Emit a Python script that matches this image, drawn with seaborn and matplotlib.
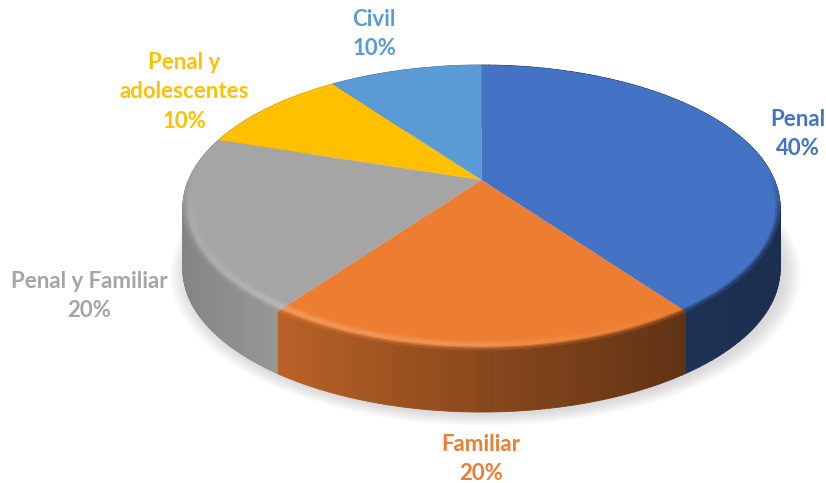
import numpy as np
import matplotlib
matplotlib.use("Agg")
import matplotlib.pyplot as plt
import seaborn as sns
from matplotlib.collections import PolyCollection
from matplotlib.transforms import Transform

categories = ["Penal", "Familiar", "Penal y Familiar", "Penal y\nadolescentes", "Civil"]
shares = [40, 20, 20, 10, 10]
hexes = ["#4472C4", "#ED7D31", "#A5A5A5", "#FFC000", "#5B9BD5"]

label_xy = [(798, 134), (481, 459), (89, 296), (184, 92), (374, 34)]
CX, CY, P, Q, S, DEPTH = 481.5, 180.0, 0.193, 137.2, 293.0, 62.0

sns.set_theme(style="white")
plt.rcParams["font.family"] = ["Lato", "DejaVu Sans"]
palette = sns.color_palette(hexes)


class Tilt(Transform):
    """Projective tilt of the unit disc onto the page."""
    input_dims = output_dims = 2
    is_separable = False
    has_inverse = False

    def transform_non_affine(self, values):
        v = np.asarray(values, float)
        w = 1 + P * v[:, 1]
        return np.column_stack([CX + S * v[:, 0] / w, CY - Q * v[:, 1] / w])


tilt = Tilt()


def project(x, y):
    return tilt.transform_non_affine(np.column_stack([x, y]))


fig = plt.figure(figsize=(8.26, 4.83), dpi=100)
ax = fig.add_axes([0, 0, 1, 1])
wedges, _ = ax.pie(shares, colors=palette, startangle=90, counterclock=False, radius=1)
ax.set_aspect("auto")
ax.set_xlim(0, 826)
ax.set_ylim(483, 0)
ax.axis("off")

# soft shadow under the disc
ring = np.radians(np.linspace(0, 360, 361))
for r in np.linspace(1.055, 1.0, 14):
    outline = project(r * np.cos(ring), r * np.sin(ring))
    ax.fill(outline[:, 0] + 4, outline[:, 1] + DEPTH + 2, color="#666666",
            alpha=0.016, lw=0, zorder=1)

# wall shading: brightness across the page, per slice
wall_shade = [
    ([480, 683, 780], [0.45, 0.44, 0.40]),
    ([280, 480, 683], [0.78, 0.58, 0.41]),
    ([183, 280], [0.80, 0.92]),
    ([183, 280], [0.8, 0.8]),
    ([183, 280], [0.8, 0.8]),
]

for w, col, (sx, sv) in zip(wedges, palette, wall_shade):
    t = np.radians(np.linspace(w.theta1, w.theta2, 90))
    pts = project(np.cos(t), np.sin(t))
    polys, cols = [], []
    for a, b in zip(pts[:-1], pts[1:]):
        polys.append([a, b, b + [0, DEPTH], a + [0, DEPTH]])
        f = np.interp((a[0] + b[0]) / 2, sx, sv)
        cols.append(np.array(col) * f)
    walls = PolyCollection(polys, facecolors=cols, edgecolors=cols, linewidths=0.6, zorder=2)
    walls.set_snap(False)
    ax.add_collection(walls)

for w in wedges:
    w.set_transform(tilt + ax.transData)
    w.set_zorder(3)
    w.set_linewidth(0)
    w.set_snap(False)

# bevelled rim along the front of the top face
radii = np.linspace(0.95, 1.0, 8)
for w, col, (sx, sv) in zip(wedges, palette, wall_shade):
    t = np.radians(np.linspace(w.theta1, w.theta2, 70))
    polys, cols = [], []
    base = np.array(col)
    for t0, t1 in zip(t[:-1], t[1:]):
        tm = (t0 + t1) / 2
        front = np.clip((-np.sin(tm) + 0.05) / 0.4, 0, 1)
        if front <= 0:
            continue
        xm = project(np.array([np.cos(tm)]), np.array([np.sin(tm)]))[0, 0]
        glow = np.interp(xm, [183, 280, 480, 683, 780], [0.06, 0.22, 0.16, 0.0, 0.0]) * front
        wall = base * np.interp(xm, sx, sv)
        for r0, r1 in zip(radii[:-1], radii[1:]):
            u = ((r0 + r1) / 2 - radii[0]) / (radii[-1] - radii[0])
            bump = np.exp(-((u - 0.5) / 0.3) ** 2)
            c = base + (1 - base) * glow * bump
            edge = np.clip((u - 0.65) / 0.35, 0, 1) * front
            c = c * (1 - edge) + wall * edge
            q = project(np.array([r0 * np.cos(t0), r1 * np.cos(t0), r1 * np.cos(t1), r0 * np.cos(t1)]),
                        np.array([r0 * np.sin(t0), r1 * np.sin(t0), r1 * np.sin(t1), r0 * np.sin(t1)]))
            polys.append(q)
            cols.append(np.clip(c, 0, 1))
    rim = PolyCollection(polys, facecolors=cols, edgecolors=cols, linewidths=0.4, zorder=4)
    rim.set_snap(False)
    ax.add_collection(rim)

for name, share, col, (x, y) in zip(categories, shares, palette, label_xy):
    ax.text(x, y, f"{name}\n{share}%", color=col, ha="center", va="center",
            fontsize=16, fontweight="bold", linespacing=1.5, zorder=5)

fig.savefig("out.png", dpi=100)
